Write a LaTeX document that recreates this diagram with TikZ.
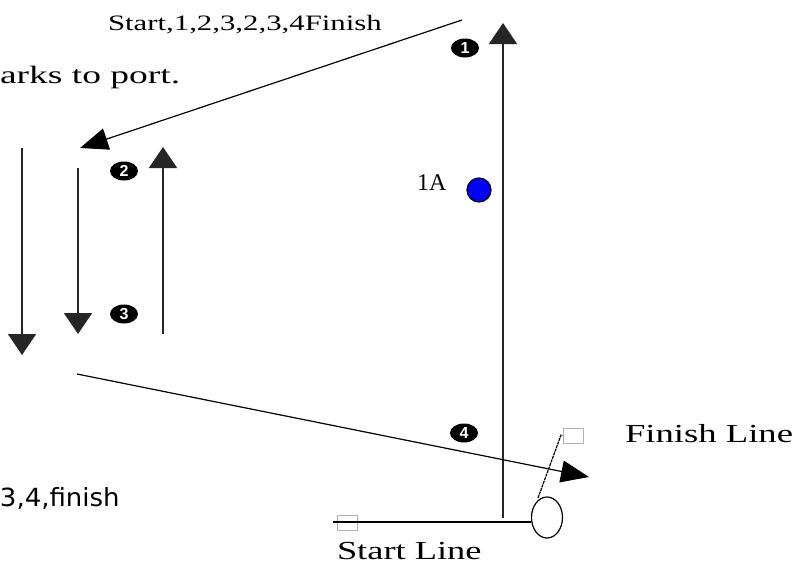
\documentclass[tikz,border=0pt]{standalone}
\usepackage{fontspec}
\usepackage{graphicx}
\setmainfont{Liberation Serif}
\newfontfamily\vfont{DejaVu Sans}
\newfontfamily\numfont{Liberation Sans}
\usetikzlibrary{arrows.meta,shapes.geometric}
\newcommand\hstretch[2]{\scalebox{#1}[1]{#2}}
\begin{document}
\begin{tikzpicture}[x=1pt,y=-1pt,
  lbl/.style={anchor=base west, inner sep=0, outer sep=0},
  numdot/.style={ellipse, fill=black, minimum width=28pt, minimum height=19pt, inner sep=0,
    text=white, font=\numfont\bfseries\fontsize{16}{16}\selectfont},
  leg/.style={line width=1.8pt, draw=black!85, -{Triangle[width=28pt,length=21pt]}},
  course/.style={line width=1.2pt, -{Triangle[width=22pt,length=28pt]}},
  buoysq/.style={draw=gray!60, line width=1pt, minimum width=20pt, minimum height=15pt, inner sep=0},
]
\useasboundingbox (0,0) rectangle (800,565);

% texts
\node[lbl, font=\fontsize{22}{22}\selectfont] (seq) at (108,30) {\hstretch{1.4}{Start,1,2,3,2,3,4Finish}};
\node[lbl, font=\fontsize{25}{25}\selectfont] (port) at (0,83) {\hstretch{1.5}{arks to port.}};
\node[lbl, font=\vfont\fontsize{25}{25}\selectfont] (fin) at (0,506) {\hstretch{1.04}{3,4,finish}};
\node[lbl, font=\fontsize{24}{24}\selectfont] (oneA) at (417,190) {1A};
\node[lbl, font=\fontsize{26}{26}\selectfont] (startlbl) at (337,559) {\hstretch{1.4}{Start Line}};
\node[lbl, font=\fontsize{26}{26}\selectfont] (finlbl) at (625,442) {\hstretch{1.41}{Finish Line}};

% coordinates
\coordinate (c1s) at (462,20);  \coordinate (c1e) at (80,148);
\coordinate (a1s) at (22,148);  \coordinate (a1e) at (22,355);
\coordinate (a2s) at (78,168);  \coordinate (a2e) at (78,334);
\coordinate (a3s) at (163,334); \coordinate (a3e) at (163,147);
\coordinate (m1s) at (503,518); \coordinate (m1e) at (503,23);
\coordinate (c2s) at (77,374);  \coordinate (c2e) at (589,477);
\coordinate (sl) at (333,522);
\coordinate (fl) at (538,498);
\coordinate (fk) at (561,435);

% boat, squares
\node[buoysq] (sq1) at (347,523) {};
\node[buoysq] (sq2) at (573,435.5) {};
\node[ellipse, draw, line width=1.2pt, minimum width=31pt, minimum height=41pt, inner sep=0] (boat) at (547,517.5) {};

% lines
\draw[line width=1.2pt] (sl) -- (sl -| boat.west);
\draw[line width=1.2pt, dash pattern=on 3pt off 0.8pt] (fl) -- (fk) -- (sq2.west);
\draw[leg] (m1s) -- (m1e);
\draw[leg] (a1s) -- (a1e);
\draw[leg] (a2s) -- (a2e);
\draw[leg] (a3s) -- (a3e);
\draw[course] (c1s) -- (c1e);
\draw[course] (c2s) -- (c2e);

% marks
\node[numdot] (n1) at (465,48) {1};
\node[numdot] (n2) at (124,171) {2};
\node[numdot] (n3) at (124,314) {3};
\node[numdot] (n4) at (464,433) {4};
\node[circle, draw, fill=blue, line width=1.2pt, minimum size=24pt, inner sep=0] (b1A) at (479,190) {};
\end{tikzpicture}
\end{document}
